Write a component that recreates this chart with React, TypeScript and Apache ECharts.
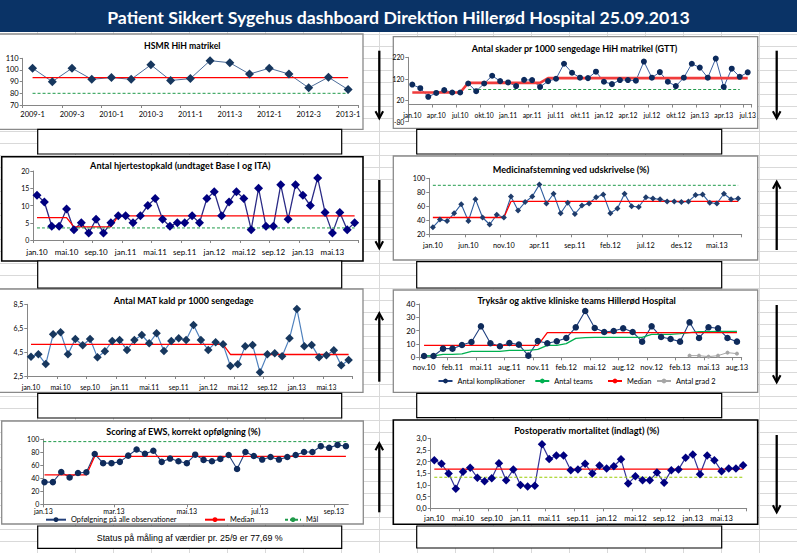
import React, { useEffect, useRef } from 'react';
import * as echarts from 'echarts';

const W = 797;
const H = 553;
const FONT = 'Lato, "Noto Sans", sans-serif';
const NARROW = '"Liberation Sans Narrow", "Arial Narrow", "Liberation Sans", sans-serif';

// ---------- categories ----------
const monthNames = ['jan', 'feb', 'mar', 'apr', 'mai', 'jun', 'jul', 'aug', 'sep', 'okt', 'nov', 'des'];
const buildMonths = (start: number, year: number, count: number) => {
  const out: string[] = [];
  for (let i = 0; i < count; i++) {
    const m = start + i;
    out.push(`${monthNames[m % 12]}.${String(year + Math.floor(m / 12)).padStart(2, '0')}`);
  }
  return out;
};
const monthsJan10Aug13 = buildMonths(0, 10, 44);
const monthsJan10Jul13 = buildMonths(0, 10, 43);
const monthsNov10Aug13 = buildMonths(10, 10, 34);

const hsmrQuarters = ['2009-1', '2009-2', '2009-3', '2009-4', '2010-1', '2010-2', '2010-3', '2010-4', '2011-1', '2011-2', '2011-3', '2011-4', '2012-1', '2012-2', '2012-3', '2012-4', '2013-1'];

// EWS: weekly measurements, x = day of 2013 (0 = 1 Jan)
const ewsDays = [1, 8, 15, 22, 29, 36, 43, 50, 57, 64, 71, 78, 85, 92, 99, 106, 113, 120, 127, 134, 141, 148, 155, 162, 169, 176, 183, 190, 197, 204, 211, 218, 225, 232, 239, 246, 253];
const ewsTickDays = [0, 59, 120, 181, 243];
const ewsTickLabels = ['jan.13', 'mar.13', 'mai.13', 'jul.13', 'sep.13'];

// run-length helper: [value, count]
const runs = (r: [number | null, number][]) => r.flatMap(([v, n]) => Array(n).fill(v));

// ---------- values ----------
const hsmrValues = [101.5, 90, 101.5, 92, 93.5, 92, 104.4, 91, 92.6, 108, 106.2, 96.5, 101.5, 96.5, 84.7, 93.8, 83.2];
const hsmrMedian = runs([[93.5, 17]]);
const hsmrGoal = runs([[80, 17]]);

const skaderValues = [93, 76, 36, 54, 67, 56, 56, 98, 62, 98, 134, 109, 103, 86, 115, 114, 82, 109, 120, 190, 148, 125, 123, 153, 106, 95, 114, 114, 111, 200, 125, 151, 106, 86, 125, 190, 172, 125, 214, 82, 167, 129, 150];
const skaderMedian = runs([[56, 7], [101, 10], [123, 26]]);
const skaderGoal = runs([[null, 7], [70, 35], [null, 1]]);

const hjerteValues = [13, 11, 4, 4, 9, 3, 5, 2, 6, 2, 5, 7, 7, 5, 7, 10, 12, 6, 4, 5, 5, 7, 5, 12, 14, 7, 11, 14, 12, 3, 15, 4, 4, 16, 6, 16, 13, 10, 18, 8, 2, 8, 3, 5];
const hjerteMedian = runs([[6.5, 5], [3.8, 6], [7, 33]]);
const hjerteGoal = runs([[3.5, 44]]);

const medicinValues = [30, 41, 39, 50, 63, 39, 70, 44, 34, 48, 44, 74, 54, 66, 74, 91, 64, 78, 50, 65, 49, 61, 64, 73, 77, 50, 57, 78, 60, 59, 73, 71, 70, 67, 67, 66, 67, 76, 77, 65, 64, 78, 70, 71];
const medicinMedian = runs([[44, 11], [67, 33]]);
const medicinGoal = runs([[90, 44]]);

const matValues = [4.12, 4.31, 3.5, 5.99, 6.16, 4.31, 5.6, 5.07, 5.6, 4.06, 4.57, 5.43, 5.51, 4.68, 5.51, 5.93, 5.24, 6.07, 4.59, 5.43, 5.65, 5.51, 6.77, 5.51, 4.68, 5.32, 5.15, 3.34, 3.48, 4.98, 5.1, 2.81, 4.31, 4.4, 4.15, 5.65, 8.11, 4.98, 5.1, 4.06, 4.23, 4.65, 3.39, 3.84];
const matMedian = runs([[5.15, 27], [4.3, 17]]);

const tryksaarValues = [1, 1, 6.5, 6.5, 9.25, 11.5, 23.25, 10.5, 8.25, 10.75, 9.5, 1.25, 12.25, 10.5, 12, 14.5, 22.5, 34.75, 22, 19, 19.75, 21.75, 19, 11.75, 23.25, 15.25, 13.75, 11.75, 26.25, 14.5, 22.5, 21.75, 14.5, 11.75];
const teamsValues = [1, 1, 2.25, 2.25, 2.5, 4.5, 4.5, 4.5, 4.5, 5.25, 5.25, 5.25, 6, 9, 9, 10.25, 14.25, 14.75, 15, 15, 15, 15, 15, 15, 17.25, 17.25, 17.25, 17.75, 18.5, 19.25, 19.25, 19.5, 19.5, 19.5];
const tryksaarMedian = runs([[9, 13], [18.5, 21]]);
const grad2Values = runs([[null, 28]]).concat([1.25, 1.25, 0.5, 1.25, 3.5, 2.75]);

const ewsValues = [34, 34, 49.5, 41, 48, 49, 77, 63, 63, 65, 74.5, 84, 77.5, 82, 65, 70, 66, 63, 76, 68, 66, 69.5, 75.5, 54, 80, 74, 68.5, 72.5, 68.5, 72.5, 75.5, 80, 80, 89, 86.5, 91, 89];
const ewsMedian = runs([[45, 6], [73.5, 31]]);
const ewsGoal = 96;

const postopValues = [2.06, 1.91, 1.49, 0.84, 1.57, 1.74, 1.31, 1.16, 1.29, 1.93, 1.2, 1.66, 1.0, 0.93, 0.97, 2.74, 2.11, 2.26, 2.26, 1.63, 1.66, 1.91, 1.49, 1.83, 1.71, 1.8, 2.1, 1.06, 1.37, 1.2, 1.2, 1.53, 1.1, 1.63, 1.66, 2.17, 2.31, 1.46, 2.26, 2.06, 1.59, 1.71, 1.71, 1.84];
const postopMedian = runs([[1.68, 44]]);
const postopGoal = runs([[1.33, 44]]);

const dashboardTitle = 'Patient Sikkert Sygehus dashboard Direktion Hillerød Hospital 25.09.2013';
const statusText = 'Status på måling af værdier pr. 25/9 er 77,69 %';
const panelTitles = [
  'HSMR HiH matrikel',
  'Antal skader pr 1000 sengedage HiH matrikel (GTT)',
  'Antal hjertestopkald (undtaget Base I og ITA)',
  'Medicinafstemning ved udskrivelse (%)',
  'Antal MAT kald pr 1000 sengedage',
  'Tryksår og aktive kliniske teams Hillerød Hospital',
  'Scoring af EWS, korrekt opfølgning (%)',
  'Postoperativ mortalitet (indlagt) (%)',
];

// ---------- helpers ----------
function fitFont(text: string, weight: string, family: string, width: number) {
  try {
    const ctx = document.createElement('canvas').getContext('2d');
    if (!ctx) return 10;
    ctx.font = `${weight} 100px ${family}`;
    const w = ctx.measureText(text).width;
    return Math.round(((100 * width) / w) * 10) / 10;
  } catch (e) {
    return 10;
  }
}

const axisGray = '#868686';
const comma1 = (v: number) => v.toFixed(1).replace('.', ',');

function catX(i: number, data: string[], interval: number, fontSize: number, margin: number, extra: any = {}) {
  return {
    type: 'category',
    gridIndex: i,
    data,
    boundaryGap: true,
    axisLine: { show: true, onZero: false, lineStyle: { color: axisGray, width: 1 } },
    axisTick: { show: true, interval, length: 3, lineStyle: { color: axisGray } },
    axisLabel: { interval, fontSize, fontFamily: FONT, color: '#000', margin },
    splitLine: { show: false },
    ...extra,
  };
}

function valY(i: number, min: number, max: number, interval: number | undefined, fontSize: number, extraLabel: any = {}, extraTick: any = {}) {
  return {
    type: 'value',
    gridIndex: i,
    min,
    max,
    interval,
    axisLine: { show: true, lineStyle: { color: axisGray, width: 1 } },
    axisTick: { show: true, length: 3, lineStyle: { color: axisGray }, ...extraTick },
    axisLabel: { fontSize, fontFamily: FONT, color: '#000', margin: 4, ...extraLabel },
    splitLine: { show: false },
  };
}

function dataLine(i: number, name: string, data: any[], symbol: string, size: number, marker: string, line: string, width = 1) {
  return {
    type: 'line',
    name,
    xAxisIndex: i,
    yAxisIndex: i,
    data,
    symbol,
    symbolSize: size,
    showAllSymbol: true,
    itemStyle: { color: marker, borderWidth: 0 },
    lineStyle: { color: line, width },
    emphasis: { disabled: true },
  };
}

function refLine(i: number, name: string, data: any[], color: string, width: number, dashed: boolean) {
  return {
    type: 'line',
    name,
    xAxisIndex: i,
    yAxisIndex: i,
    data,
    symbol: 'none',
    itemStyle: { color },
    lineStyle: { color, width, type: dashed ? [3, 2] : 'solid' },
    emphasis: { disabled: true },
  };
}

function buildOption() {
  const grids = [
    { left: 22.7, top: 58.3, width: 335.3, height: 46.7 },
    { left: 408.3, top: 57.3, width: 343.4, height: 64.4 },
    { left: 33.3, top: 171, width: 325, height: 69 },
    { left: 429.3, top: 178.3, width: 312.4, height: 56 },
    { left: 27.3, top: 304.3, width: 325, height: 71.7 },
    { left: 419.3, top: 304, width: 322.4, height: 53.3 },
    { left: 43.3, top: 439, width: 305, height: 65.3 },
    { left: 430.7, top: 438.3, width: 316, height: 70 },
  ].map((g) => ({ ...g, containLabel: false, outerBoundsMode: 'none', show: false }));

  // P2: x axis crosses the value axis at 0 (value 0 sits 220/300 down the plot)
  const p2ZeroOffset = -(64.4 * (1 - 220 / 300));

  const xAxis: any[] = [
    catX(0, hsmrQuarters, 1, 7.5, 5),
    catX(1, monthsJan10Jul13, 2, 6.8, 7, { offset: p2ZeroOffset }),
    catX(2, monthsJan10Aug13, 3, 8, 7.5),
    catX(3, monthsJan10Aug13, 4, 7.3, 8),
    catX(4, monthsJan10Aug13, 3, 6.8, 7),
    catX(5, monthsNov10Aug13, 2, 7.6, 6),
    {
      type: 'value',
      gridIndex: 6,
      min: 0,
      max: 255,
      axisLine: { show: true, onZero: false, lineStyle: { color: axisGray } },
      axisTick: { show: true, length: 3, lineStyle: { color: axisGray }, customValues: ewsTickDays },
      axisLabel: {
        fontSize: 7,
        fontFamily: FONT,
        color: '#000',
        margin: 3,
        customValues: ewsTickDays,
        formatter: (v: number) => ewsTickLabels[ewsTickDays.indexOf(v)] ?? '',
      },
      splitLine: { show: false },
    },
    catX(7, monthsJan10Aug13, 3, 7.6, 6),
  ];

  const yAxis: any[] = [
    valY(0, 70, 110, 10, 7.5),
    valY(1, -80, 220, undefined, 6.8, { customValues: [-80, 20, 120, 220] }, { customValues: [-80, 20, 120, 220] }),
    valY(2, 0, 20, 5, 7),
    valY(3, 20, 100, 20, 7.2),
    valY(4, 2.5, 8.5, undefined, 7, { customValues: [2.5, 4.5, 6.5, 8.5], formatter: comma1 }, { customValues: [2.5, 4.5, 6.5, 8.5] }),
    valY(5, 0, 40, 10, 7.8),
    valY(6, 0, 100, 20, 7),
    valY(7, 0, 3, 0.5, 7.6, { formatter: comma1 }),
  ];

  const series: any[] = [
    // P1 HSMR
    dataLine(0, 'HSMR', hsmrValues, 'diamond', 9, '#17375e', '#4d6d9a', 1),
    refLine(0, 'HSMR median', hsmrMedian, '#ff0000', 1.3, false),
    refLine(0, 'HSMR mål', hsmrGoal, '#1f9a4a', 1, true),
    // P2 skader
    dataLine(1, 'Antal skader', skaderValues, 'circle', 6, '#0c2a5c', '#3a5f9f', 1),
    refLine(1, 'Skader median', skaderMedian, '#f03c3c', 2.6, false),
    refLine(1, 'Skader mål', skaderGoal, '#1f9a4a', 1, true),
    // P3 hjertestop
    dataLine(2, 'Hjertestopkald', hjerteValues, 'diamond', 9, '#000080', '#2a2a85', 1.3),
    refLine(2, 'Hjertestop median', hjerteMedian, '#ff0000', 1.3, false),
    refLine(2, 'Hjertestop mål', hjerteGoal, '#1f9a4a', 1, true),
    // P4 medicin
    dataLine(3, 'Medicinafstemning', medicinValues, 'diamond', 6, '#1f3c6b', '#2e5c9e', 1.1),
    refLine(3, 'Medicin median', medicinMedian, '#ff0000', 1.3, false),
    refLine(3, 'Medicin mål', medicinGoal, '#1f9a4a', 1, true),
    // P5 MAT
    dataLine(4, 'MAT kald', matValues, 'diamond', 8.5, '#17375e', '#4f81bd', 1.2),
    refLine(4, 'MAT median', matMedian, '#ff0000', 1.3, false),
    // P6 tryksår
    dataLine(5, 'Antal komplikationer', tryksaarValues, 'circle', 6.5, '#0f2b5b', '#1f3f7f', 1.1),
    refLine(5, 'Antal teams', teamsValues, '#00b050', 1.3, false),
    refLine(5, 'Median', tryksaarMedian, '#ff0000', 1.3, false),
    dataLine(5, 'Antal grad 2', grad2Values, 'circle', 4, '#a6a6a6', '#a6a6a6', 1),
    // P7 EWS
    dataLine(6, 'Opfølgning på alle observationer', ewsDays.map((d, k) => [d, ewsValues[k]]), 'circle', 6.5, '#0f2b5b', '#23407a', 1.1),
    refLine(6, 'Median', ewsDays.map((d, k) => [d, ewsMedian[k]]), '#ff0000', 1.3, false),
    refLine(6, 'Mål', [[0, ewsGoal], [255, ewsGoal]], '#1f9a4a', 1, true),
    // P8 postop
    dataLine(7, 'Postoperativ mortalitet', postopValues, 'diamond', 8.5, '#000080', '#333399', 1.2),
    refLine(7, 'Postop median', postopMedian, '#ff0000', 1.3, false),
    refLine(7, 'Postop mål', postopGoal, '#99cc00', 1.2, true),
  ];

  const legendBase = (name: string, left: number, top: number, itemWidth: number, fontSize: number) => ({
    data: [name],
    left,
    top,
    padding: 0,
    itemWidth,
    itemHeight: 6,
    selectedMode: false,
    textStyle: { fontSize, fontFamily: FONT, color: '#000' },
  });
  const legend = [
    legendBase('Antal komplikationer', 437.5, 377.5, 14, 7.4),
    legendBase('Antal teams', 534.3, 377.5, 14, 7.4),
    legendBase('Median', 607, 377.5, 14, 7.4),
    legendBase('Antal grad 2', 656, 377.5, 14, 7.4),
    legendBase('Opfølgning på alle observationer', 45, 516.2, 20, 7.4),
    legendBase('Median', 204, 516.2, 20, 7.4),
    legendBase('Mål', 284, 516.2, 16, 7.4),
  ];

  // ---------- graphics ----------
  const g: any[] = [];
  const gridColor = '#d9d9d9';
  for (let x = 38; x < W; x += 38) {
    g.push({ type: 'line', silent: true, z: -10, shape: { x1: x - 0.5, y1: 32, x2: x - 0.5, y2: H }, style: { stroke: gridColor, lineWidth: 1 } });
  }
  for (let k = -1; 46 + 12.075 * k < H; k++) {
    const y = Math.round(46 + 12.075 * k) + 0.5;
    g.push({ type: 'line', silent: true, z: -10, shape: { x1: 0, y1: y, x2: W, y2: y }, style: { stroke: gridColor, lineWidth: 1 } });
  }
  // title bar
  g.push({ type: 'rect', silent: true, z: 5, shape: { x: 0, y: 0, width: W, height: 32 }, style: { fill: '#0a3366' } });
  g.push({
    type: 'text', silent: true, z: 6, x: 398.5, y: 17,
    style: { text: dashboardTitle, fill: '#ffffff', fontWeight: 'bold', fontFamily: FONT, fontSize: fitFont(dashboardTitle, 'bold', FONT, 583), textAlign: 'center', textVerticalAlign: 'middle' },
  });
  // panel frames
  const panels: [number, number, number, number, boolean][] = [
    [-1, 34, 364, 95.3, false],
    [393.3, 36.7, 364.4, 91.6, false],
    [1.7, 156.7, 361.3, 104.3, true],
    [393.3, 156, 364.4, 104, false],
    [-1, 289, 364, 103.3, false],
    [393.3, 290, 364.4, 102.3, false],
    [1.7, 421, 361.6, 103, false],
    [393.3, 420, 364.4, 104.3, true],
  ];
  panels.forEach(([x, y, w, h, dark]) => {
    g.push({ type: 'rect', silent: true, z: -5, shape: { x, y, width: w, height: h }, style: { fill: '#ffffff', stroke: dark ? '#000000' : '#8a8a8a', lineWidth: dark ? 1.6 : 1.3 } });
  });
  // comment boxes under panels
  const boxes: [number, number, number, number][] = [
    [37.7, 129.3, 304, 24.7],
    [416.7, 129.3, 305, 24.7],
    [37.7, 261, 304, 27],
    [416.7, 261.7, 305, 26.3],
    [37.7, 393.3, 304, 24.7],
    [416.7, 393.3, 305, 24.4],
    [37.7, 526, 304, 22.3],
    [416.7, 526, 305, 22],
  ];
  boxes.forEach(([x, y, w, h]) => {
    g.push({ type: 'rect', silent: true, z: -4, shape: { x, y, width: w, height: h }, style: { fill: '#ffffff', stroke: '#000000', lineWidth: 1.2 } });
  });
  g.push({
    type: 'text', silent: true, z: 6, x: 189.7, y: 538,
    style: { text: statusText, fill: '#000', fontFamily: NARROW, fontSize: fitFont(statusText, 'normal', NARROW, 186), textAlign: 'center', textVerticalAlign: 'middle' },
  });
  // panel titles
  const titlePos: [number, number, number][] = [
    [182.3, 45.7, 76.7],
    [574.5, 48.3, 205.7],
    [180.3, 165.7, 180.7],
    [571, 169, 156.7],
    [183.7, 300, 140.7],
    [576.7, 300.7, 198],
    [183.3, 431.7, 154.7],
    [586.7, 430.7, 145.3],
  ];
  titlePos.forEach(([cx, cy, w], k) => {
    g.push({
      type: 'text', silent: true, z: 6, x: cx, y: cy,
      style: { text: panelTitles[k], fill: '#000', fontWeight: 'bold', fontFamily: FONT, fontSize: fitFont(panelTitles[k], 'bold', FONT, w), textAlign: 'center', textVerticalAlign: 'middle' },
    });
  });
  // arrows: [x, tail, tip]
  const arrows: [number, number, number][] = [
    [379.3, 50.7, 118.3],
    [379.3, 180, 248.3],
    [379.3, 381.7, 313.3],
    [379.3, 512.3, 443.3],
    [776.7, 50.7, 118.3],
    [776.7, 250, 181.7],
    [776.7, 305, 382.3],
    [776.7, 435, 512.3],
  ];
  arrows.forEach(([x, tail, tip]) => {
    const dir = tip > tail ? 1 : -1;
    g.push({ type: 'line', silent: true, z: 3, shape: { x1: x, y1: tail, x2: x, y2: tip - dir * 1 }, style: { stroke: '#000', lineWidth: 2.3 } });
    g.push({
      type: 'polyline', silent: true, z: 3,
      shape: { points: [[x - 3.8, tip - dir * 7], [x, tip], [x + 3.8, tip - dir * 7]] },
      style: { stroke: '#000', lineWidth: 2.1, fill: null },
    });
  });

  return {
    animation: false,
    backgroundColor: '#ffffff',
    textStyle: { fontFamily: FONT },
    grid: grids,
    xAxis,
    yAxis,
    series,
    legend,
    tooltip: { show: false },
    graphic: { elements: g },
  };
}

export default function App() {
  const ref = useRef<HTMLDivElement>(null);
  useEffect(() => {
    document.body.style.margin = '0';
    if (!ref.current) return;
    const chart = echarts.init(ref.current, undefined, { renderer: 'svg' });
    chart.setOption(buildOption() as any);
    return () => chart.dispose();
  }, []);
  return (
    <div style={{ position: 'fixed', left: 0, top: 0, width: W, height: H, background: '#fff' }}>
      <div ref={ref} style={{ width: W, height: H }} />
    </div>
  );
}
